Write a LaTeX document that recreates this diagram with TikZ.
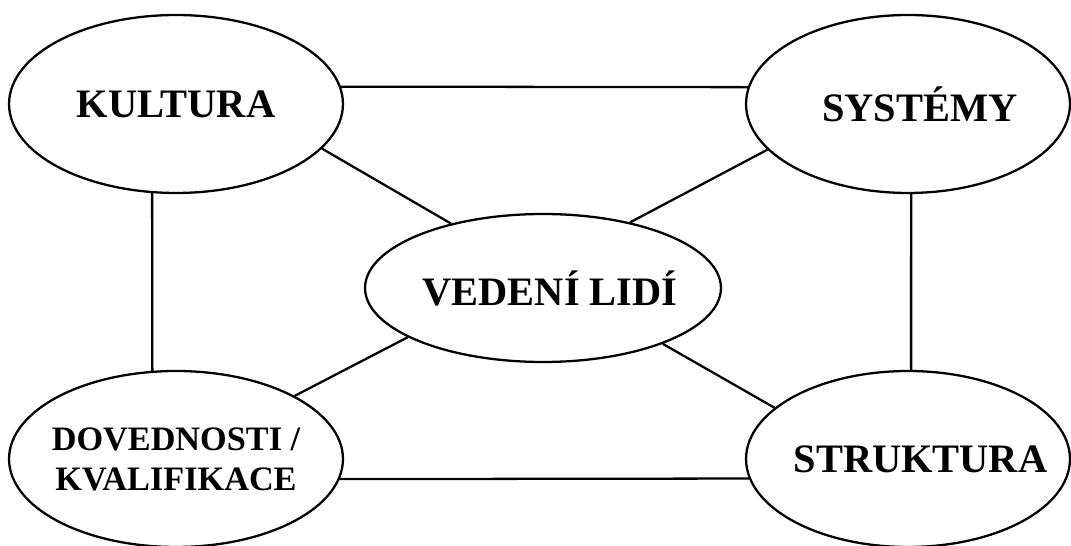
\documentclass[tikz,border=0pt]{standalone}
\usepackage{fontspec}
\setmainfont{Liberation Serif}
\usetikzlibrary{shapes.geometric}
\tikzset{blob/.style={ellipse, draw, line width=1.3pt, inner sep=-20pt, align=center,
  font=\fontsize{23}{24}\selectfont\bfseries},
  link/.style={line width=1.3pt}}
\begin{document}
\begin{tikzpicture}[x=0.02cm,y=-0.02cm]
\useasboundingbox (0,0) rectangle (1071,546);
\node(KU)[blob, minimum width=6.68cm, minimum height=3.56cm] at (176,104){KULTURA};
\node(SY)[blob, minimum width=6.48cm, minimum height=3.56cm] at (908,104){\hspace*{0.48cm}SYSTÉMY};
\node(VL)[blob, minimum width=7.12cm, minimum height=2.96cm] at (543,288){\hspace*{0.28cm}VEDENÍ LIDÍ};
\node(DK)[blob, minimum width=6.68cm, minimum height=3.52cm,
  font=\fontsize{19.5}{22.8}\selectfont\bfseries] at (176,459){DOVEDNOSTI /\\KVALIFIKACE};
\node(ST)[blob, minimum width=6.48cm, minimum height=3.52cm] at (908,459){\hspace*{0.5cm}STRUKTURA};
% outer frame
\draw[link] (KU.6) -- (SY.174);
\draw[link] (KU.-105) -- (DK.105);
\draw[link] (SY.-88) -- (ST.88);
\draw[link] (DK.-7) -- (ST.-173);
% spokes to the middle
\draw[link] (KU.-17) -- (VL.145);
\draw[link] (SY.-162) -- (VL.37);
\draw[link] (DK.28) -- (VL.200);
\draw[link] (ST.159) -- (VL.-25);
\end{tikzpicture}
\end{document}
